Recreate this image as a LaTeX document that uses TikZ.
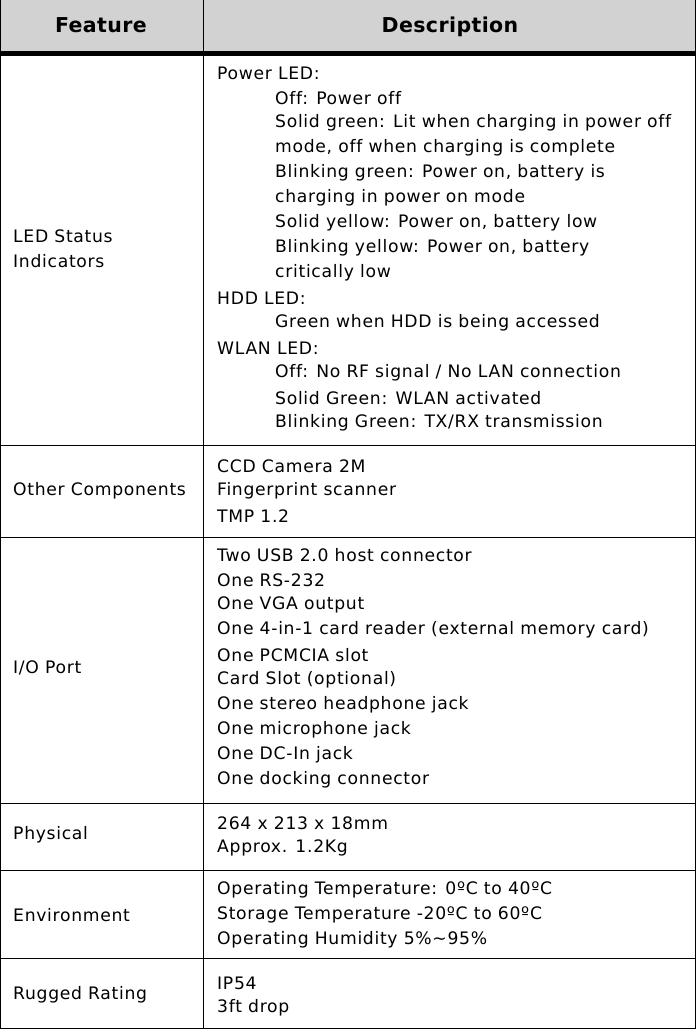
\documentclass[tikz,border=0pt]{standalone}
\usepackage{fontspec}
\setmainfont{DejaVu Sans}[LetterSpace=4,Ligatures=NoCommon]
\newfontfamily\hdfont{DejaVu Sans}[LetterSpace=2,Ligatures=NoCommon]
\begin{document}
\begin{tikzpicture}[x=1pt,y=-1pt,
  txt/.style={anchor=west,inner sep=0pt,font=\fontsize{17.2}{19}\selectfont},
  hd/.style={inner sep=0pt,anchor=base,font=\hdfont\bfseries\fontsize{20.5}{22}\selectfont},
  rule/.style={line width=1pt,black}]
\useasboundingbox (0,0) rectangle (696,1029);
\fill[gray!35] (0,0) rectangle (696,51);
\draw[line width=5pt] (0,53) -- (696,53);
\foreach \y in {445,537,803,870,958} \draw[rule] (0,\y) -- (696,\y);
\draw[rule] (0.5,0) -- (0.5,1029);
\draw[rule] (695.5,0) -- (695.5,1029);
\draw[rule] (203,0) -- (203,1029);
\draw[rule] (0,1028.5) -- (696,1028.5);
\node[hd] (h1) at (101,32) {Feature};
\node[hd] (h2) at (450,32) {Description};
% left column
\node[txt] (l1) at (13,236) {LED Status};
\node[txt] (l1b) at (13,261) {Indicators};
\node[txt] (l2) at (13,491) {Other Components};
\node[txt] (l3) at (13,668) {I/O Port};
\node[txt] (l4) at (13,835) {Physical};
\node[txt] (l5) at (13,915) {Environment};
\node[txt] (l6) at (13,995) {Rugged Rating};
% LED description
\foreach \t/\x/\y [count=\i] in {
 {Power LED:}/217/73,
 {Off: Power off}/275/98,
 {Solid green: Lit when charging in power off}/275/123,
 {mode, off when charging is complete}/275/148,
 {Blinking green: Power on, battery is}/275/173,
 {charging in power on mode}/275/198,
 {Solid yellow: Power on, battery low}/275/223,
 {Blinking yellow: Power on, battery}/275/248,
 {critically low}/275/273,
 {HDD LED:}/217/298,
 {Green when HDD is being accessed}/275/323,
 {WLAN LED:}/217/348,
 {Off: No RF signal / No LAN connection}/275/373,
 {Solid Green: WLAN activated}/275/398,
 {Blinking Green: TX/RX transmission}/275/423}
 \node[txt] (d\i) at (\x,\y) {\t};
\foreach \t/\y [count=\i] in {
 {CCD Camera 2M}/466, {Fingerprint scanner}/491, {TMP 1.2}/516,
 {Two USB 2.0 host connector}/555, {One RS-232}/580, {One VGA output}/605,
 {One 4-in-1 card reader (external memory card)}/630, {One PCMCIA slot}/655,
 {Card Slot (optional)}/680, {One stereo headphone jack}/705,
 {One microphone jack}/730, {One DC-In jack}/755, {One docking connector}/780,
 {264 x 213 x 18mm}/823, {Approx. 1.2Kg}/848,
 {Operating Temperature: 0ºC to 40ºC}/890, {Storage Temperature -20ºC to 60ºC}/915,
 {Operating Humidity 5\%\textasciitilde95\%}/940,
 {IP54}/983, {3ft drop}/1008}
 \node[txt] (e\i) at (217,\y) {\t};
\end{tikzpicture}
\end{document}
